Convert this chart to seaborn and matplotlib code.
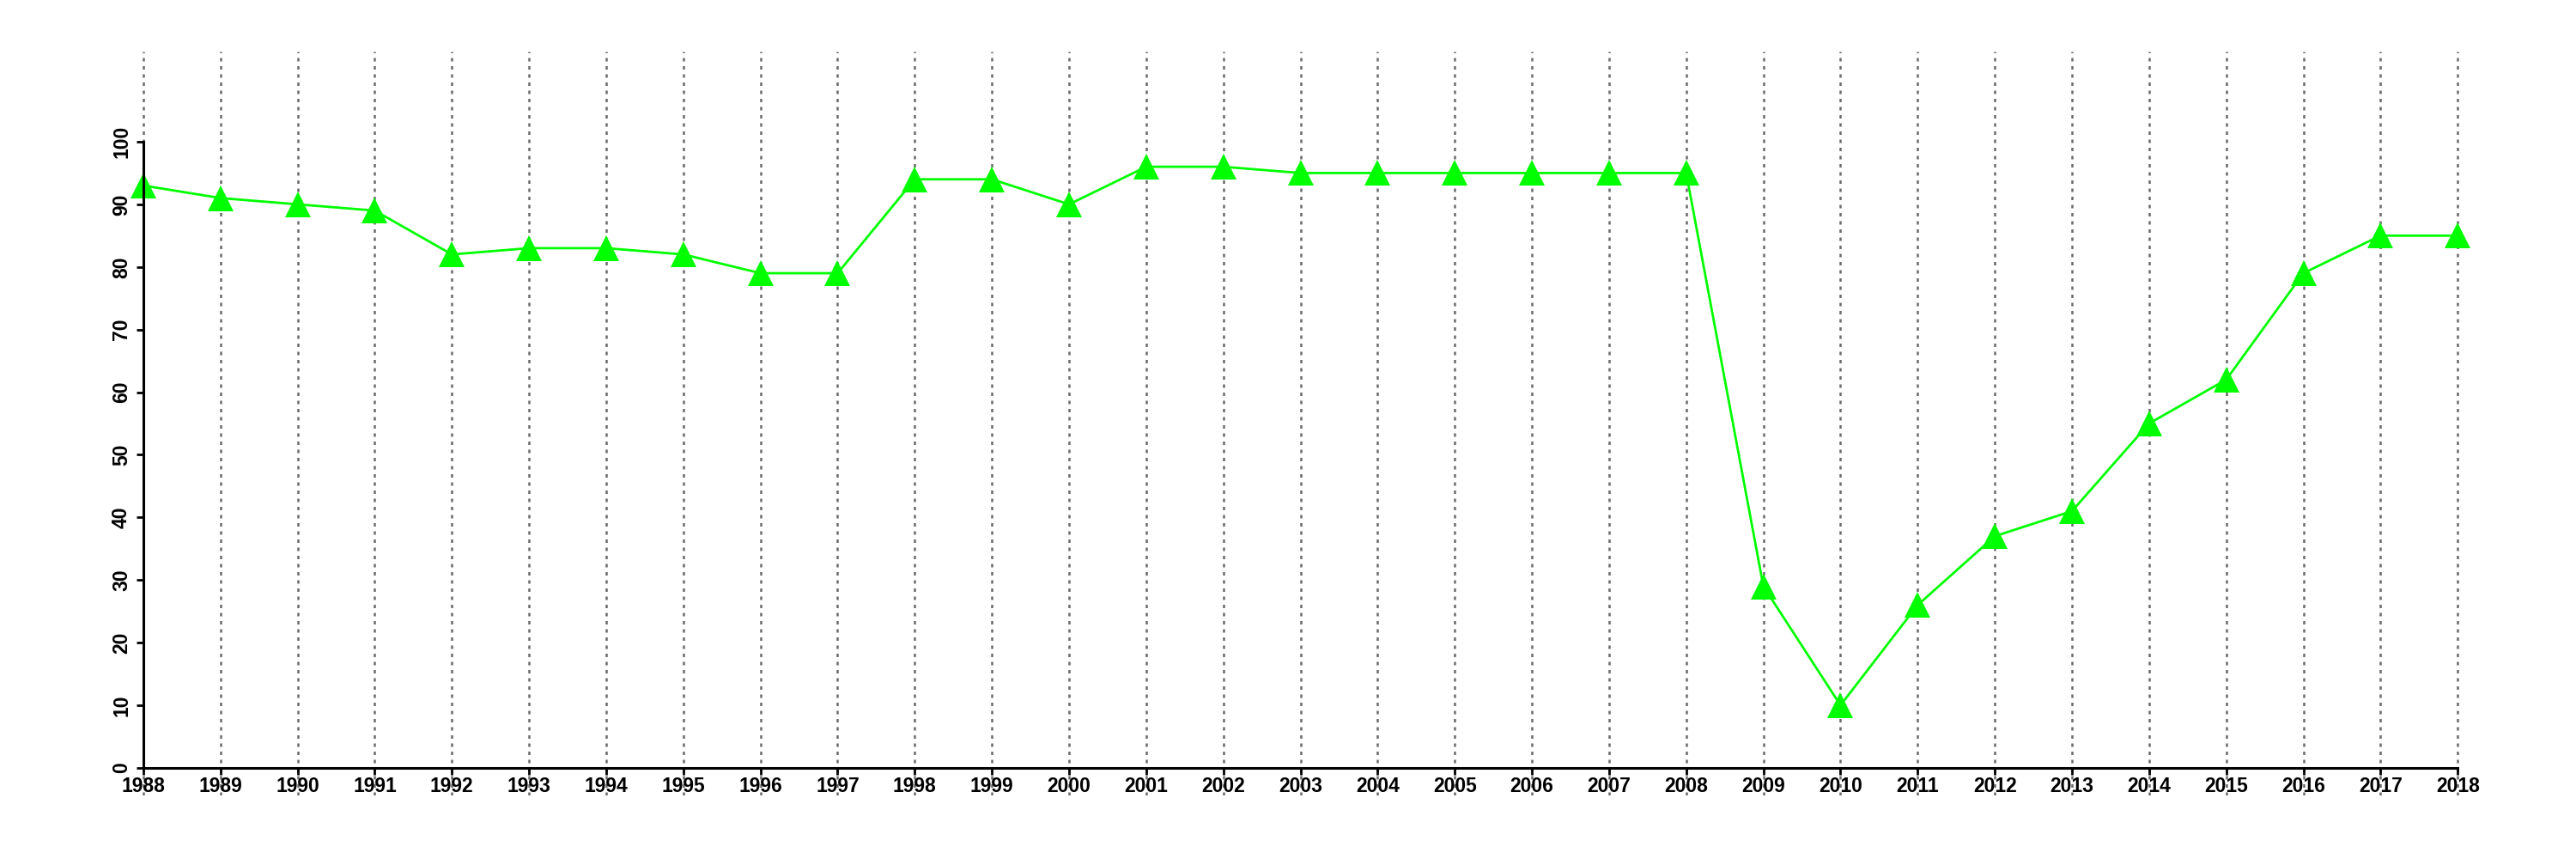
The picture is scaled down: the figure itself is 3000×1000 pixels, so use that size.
import numpy as np
import pandas as pd
import seaborn as sns
import matplotlib.pyplot as plt

# values
years = [1988, 1989, 1990, 1991, 1992, 1993, 1994, 1995, 1996, 1997,
         1998, 1999, 2000, 2001, 2002, 2003, 2004, 2005, 2006, 2007,
         2008, 2009, 2010, 2011, 2012, 2013, 2014, 2015, 2016, 2017, 2018]
values = [93, 91, 90, 89, 82, 83, 83, 82, 79, 79,
          94, 94, 90, 96, 96, 95, 95, 95, 95, 95,
          95, 29, 10, 26, 37, 41, 55, 62, 79, 85, 85]
y_ticks = list(range(0, 101, 10))

df = pd.DataFrame({'year': years, 'value': values})

sns.set_style('white')
plt.rcParams['font.family'] = ['Liberation Sans', 'DejaVu Sans']

fig = plt.figure(figsize=(30, 10), dpi=100)
ax = fig.add_axes([0.0197, 0.074, 0.9703, 0.866])

# dotted vertical grid at every year
ax.set_xticks(years)
ax.xaxis.grid(True, color='#6a6a6a', linewidth=1.8, linestyle=(0, (1.6, 2.2)))
ax.yaxis.grid(False)
ax.set_axisbelow(True)

sns.lineplot(data=df, x='year', y='value', ax=ax, color='#00ff00', linewidth=2.0,
             marker='^', markersize=21, markeredgewidth=0, markerfacecolor='#00ff00')

ax.set_xlim(1986.8, 2019.2)
ax.set_ylim(-4.4, 114.4)
ax.set_yticks(y_ticks)
ax.set_xlabel('')
ax.set_ylabel('')

# R style axes: spines only across the data range
for s in ['top', 'right']:
    ax.spines[s].set_visible(False)
ax.spines['left'].set_position(('data', years[0]))
ax.spines['left'].set_bounds(0, 100)
ax.spines['bottom'].set_position(('data', 0))
ax.spines['bottom'].set_bounds(years[0], years[-1])
for s in ['left', 'bottom']:
    ax.spines[s].set_linewidth(2.2)
    ax.spines[s].set_color('black')

ax.tick_params(axis='both', which='major', length=6, width=2, color='black',
               labelsize=16.5, labelcolor='black')
ax.tick_params(axis='x', pad=1, bottom=True)
ax.tick_params(axis='y', pad=4, left=True, labelrotation=90)
for lab in ax.get_yticklabels():
    lab.set_va('center')
    lab.set_fontweight('bold')
for lab in ax.get_xticklabels():
    lab.set_fontweight('bold')

fig.savefig('out.png', dpi=100)
